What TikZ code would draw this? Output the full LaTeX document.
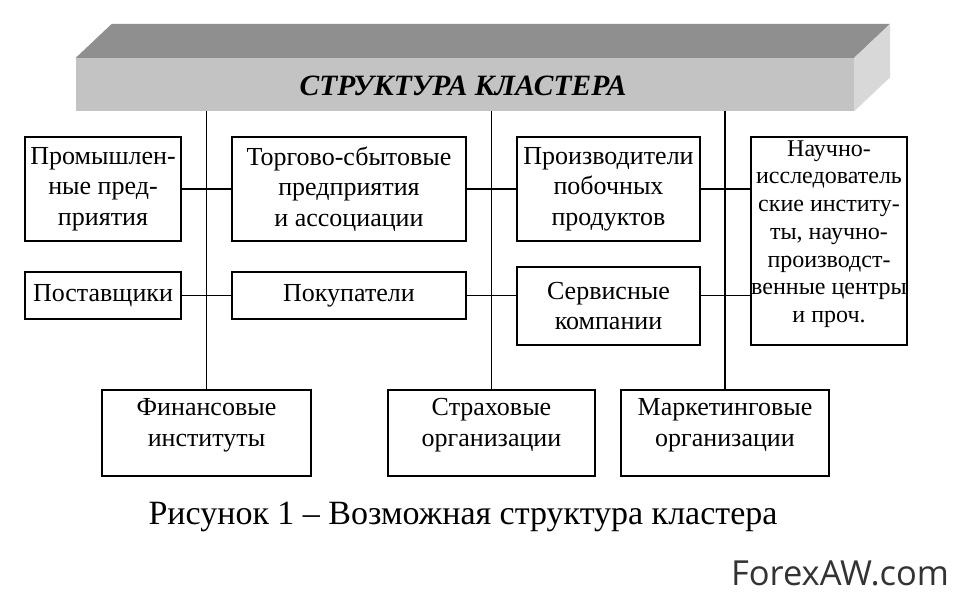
\documentclass[tikz,border=0pt]{standalone}
\usepackage{fontspec}
\setmainfont{Liberation Serif}
\newfontfamily\wmfont{Open Sans}
\definecolor{frontgray}{HTML}{C3C3C3}
\definecolor{topgray}{HTML}{8F8F8F}
\definecolor{sidegray}{HTML}{D8D8D8}
\begin{document}
\begin{tikzpicture}[x=1pt,y=-1pt,
  box/.style={draw=black, line width=1.8pt, fill=white, inner sep=0pt, align=center,
    font=\fontsize{26}{30.5}\selectfont},
  txt/.style={align=center, inner sep=0pt, font=\fontsize{26}{31}\selectfont},
  conn/.style={draw=black, line width=1.4pt}]
\useasboundingbox[fill=white] (0,0) rectangle (960,602);

% banner
\node[fill=frontgray, minimum width=778pt, minimum height=53pt, inner sep=0pt] (banner) at (465,84.5) {};
\fill[topgray] (banner.north west) -- ([shift={(36,-34)}]banner.north west)
  -- ([shift={(36,-34)}]banner.north east) -- (banner.north east) -- cycle;
\fill[sidegray] (banner.north east) -- ([shift={(36,-34)}]banner.north east)
  -- ([shift={(36,-34)}]banner.south east) -- (banner.south east) -- cycle;
\node[font=\fontsize{29.5}{32}\selectfont\bfseries\itshape] (title) at (463,86) {СТРУКТУРА КЛАСТЕРА};

% row 1
\node[box, minimum width=156pt, minimum height=104pt] (prom) at (103,189) {Промышлен-\\ные пред-\\приятия};
\node[box, minimum width=234pt, minimum height=104pt] (torg) at (349,189) {Торгово-сбытовые\\предприятия\\и ассоциации};
\node[box, minimum width=183pt, minimum height=104pt] (proiz) at (608.5,189) {Производители\\побочных\\продуктов};
\node[box, minimum width=156pt, minimum height=208pt] (nauch) at (829,241) {};
\node[txt, font=\fontsize{24}{27.7}\selectfont] (nauchtxt) at ([yshift=7pt]nauch.center) {Научно-\\исследователь\\ские институ-\\ты, научно-\\производст-\\венные центры\\и проч.};

% row 2
\node[box, minimum width=156pt, minimum height=47pt] (postav) at (103,295.5) {Поставщики};
\node[box, minimum width=234pt, minimum height=47pt] (pokup) at (349,295.5) {Покупатели};
\node[box, minimum width=183pt, minimum height=78pt] (serv) at (608.5,306) {Сервисные\\компании};

% row 3
\node[box, minimum width=209pt, minimum height=86pt] (fin) at (206.5,433) {};
\node[box, minimum width=207pt, minimum height=86pt] (strah) at (491.5,433) {};
\node[box, minimum width=208pt, minimum height=86pt] (mark) at (725,433) {};
\node[txt] (fintxt) at ([yshift=8pt]fin.center) {Финансовые\\институты};
\node[txt] (strahtxt) at ([yshift=8pt]strah.center) {Страховые\\организации};
\node[txt] (marktxt) at ([yshift=8pt]mark.center) {Маркетинговые\\организации};

% connectors
\coordinate (v1) at (fin.north |- banner.south);
\coordinate (v2) at (strah.north |- banner.south);
\coordinate (v3) at (mark.north |- banner.south);
\draw[conn] (v1) -- (fin.north);
\draw[conn] (v2) -- (strah.north);
\draw[conn] (v3) -- (mark.north);
\draw[conn] (prom.east) -- (torg.west);
\draw[conn] (torg.east) -- (proiz.west);
\draw[conn] (proiz.east) -- (nauch.west |- proiz.east);
\draw[conn] (postav.east) -- (pokup.west);
\draw[conn] (pokup.east) -- (serv.west |- pokup.east);
\draw[conn] (serv.east |- pokup.east) -- (nauch.west |- pokup.east);

% caption and watermark
\node[font=\fontsize{34}{38}\selectfont] (cap) at (463,517) {Рисунок 1 – Возможная структура кластера};
\node[font=\wmfont\fontsize{34.5}{38}\selectfont, text=black!80] (wm) at (840,573) {ForexAW.com};
\end{tikzpicture}
\end{document}
